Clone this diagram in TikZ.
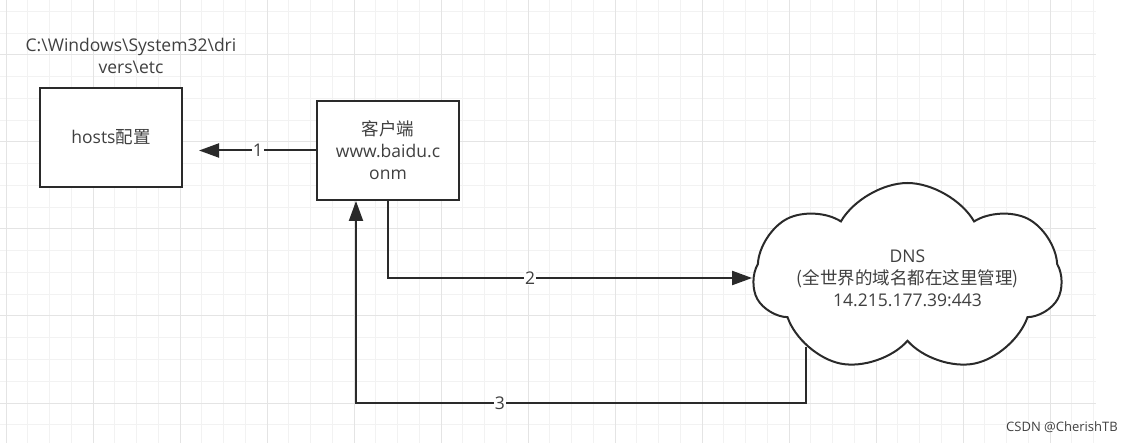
\documentclass[tikz,border=0pt]{standalone}
\usepackage{fontspec}
\setmainfont{Open Sans}
\newfontfamily\cjk{Noto Sans CJK SC}
\usetikzlibrary{arrows.meta,shapes.symbols}
\definecolor{linecol}{HTML}{2A2A2A}
\definecolor{textcol}{HTML}{404040}
\definecolor{gridminor}{HTML}{F2F2F2}
\definecolor{gridmajor}{HTML}{E4E4E4}

\begin{document}
\begin{tikzpicture}[x=1pt,y=-1pt,
  base_text/.style={text=textcol,align=center,font=\fontsize{17.5}{22}\selectfont},
  box_node/.style={base_text,draw=linecol,line width=2pt,fill=white,minimum width=142pt,minimum height=99pt,inner sep=0pt},
  cloud_node/.style={base_text,cloud,cloud puffs=7,cloud puff arc=120,cloud ignores aspect,draw=linecol,line width=2pt,fill=white,minimum width=308pt,minimum height=190pt,inner sep=0pt},
  arrow_line/.style={draw=linecol,line width=2pt,-{Triangle[length=20pt,width=14pt]}},
  edge_label/.style={base_text,fill=white,inner sep=1pt},
  grid_minor/.style={draw=gridminor,line width=1pt},
  grid_major/.style={draw=gridmajor,line width=1pt}]

  \useasboundingbox (0,0) rectangle (1137,443);

  % background grid
  \foreach \k in {0,...,50}
    \draw[grid_minor] ({6+21.75*\k},0) -- ({6+21.75*\k},443);
  \foreach \k in {0,...,20}
    \draw[grid_minor] (0,{11.5+21.75*\k}) -- (1096,{11.5+21.75*\k});
  \foreach \k in {0,...,12}
    \draw[grid_major] ({6+87*\k},0) -- ({6+87*\k},443);
  \foreach \k in {0,...,5}
    \draw[grid_major] (0,{-32+87*\k}) -- (1096,{-32+87*\k});

  \node[base_text] (path) at (131,56) {C:\textbackslash Windows\textbackslash System32\textbackslash dri\\vers\textbackslash etc};
  \node[box_node] (hosts) at (111,137.5) {hosts{\cjk 配置}};
  \node[box_node] (client) at (388,150.5) {{\cjk 客户端}\\www.baidu.c\\onm};
  \node[cloud_node] (dns) at (907.5,278) {DNS\\{\cjk (全世界的域名都在这里管理)}\\14.215.177.39:443};
  \coordinate (back) at (356,403);

  \draw[arrow_line,shorten >=16pt] (client.west) -- (client.west -| hosts.east) node[edge_label,pos=0.437] {1};
  \draw[arrow_line] (client.south) |- (dns.west) node[edge_label,pos=0.695] {2};
  \draw[arrow_line] (dns.214) |- (back) node[edge_label,pos=0.84] {3} -- ([xshift=-32pt]client.south);

  \node[text=textcol,font=\fontsize{13}{15}\selectfont] (mark) at (1062,427) {CSDN @CherishTB};
\end{tikzpicture}
\end{document}
